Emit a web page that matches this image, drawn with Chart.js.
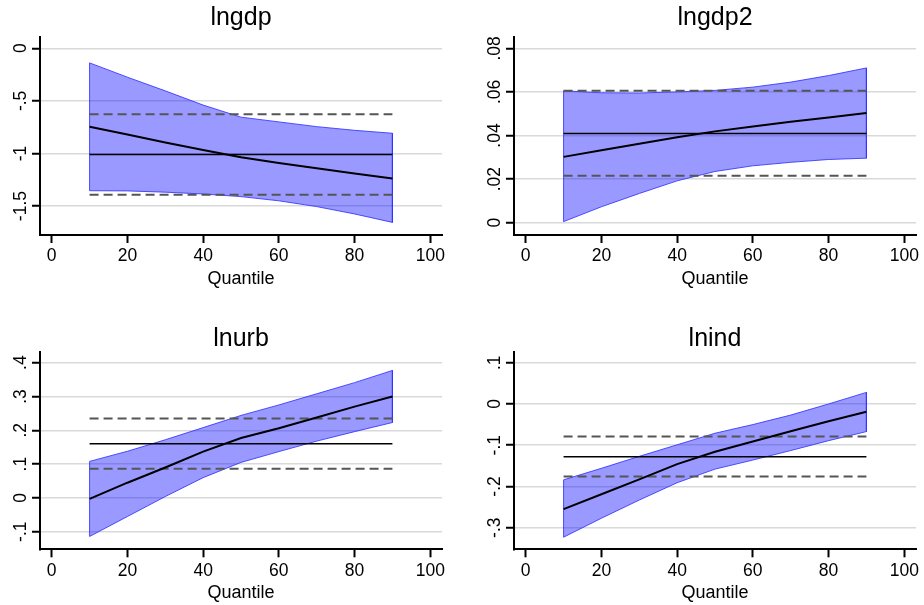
<!DOCTYPE html>
<html><head><meta charset="utf-8">
<script src="https://cdn.jsdelivr.net/npm/chart.js@4/dist/chart.umd.min.js"></script>
<style>
html,body{margin:0;padding:0;background:#fff;}
#wrap{position:relative;width:924px;height:605px;overflow:hidden;background:#fff;}
canvas{position:absolute;}
</style></head><body>
<div id="wrap">
<canvas id="c1" width="462" height="300" style="left:0;top:0"></canvas>
<canvas id="c2" width="462" height="300" style="left:462px;top:0"></canvas>
<canvas id="c3" width="462" height="305" style="left:0;top:300px"></canvas>
<canvas id="c4" width="462" height="305" style="left:462px;top:300px"></canvas>
</div>
<script>
// ---- data ----
const quantiles = [10, 20, 30, 40, 50, 60, 70, 80, 90];
const xTicks = [0, 20, 40, 60, 80, 100];
const xAxisTitle = 'Quantile';

const lngdpUpper = [-0.139, -0.275, -0.405, -0.54, -0.655, -0.70, -0.745, -0.78, -0.808];
const lngdpCoef  = [-0.747, -0.82, -0.895, -0.968, -1.035, -1.09, -1.14, -1.19, -1.237];
const lngdpLower = [-1.354, -1.356, -1.368, -1.385, -1.41, -1.45, -1.505, -1.575, -1.655];
const lngdpOls   = [-1.01, -0.627, -1.392]; // estimate, upper, lower
const lngdpTicks = [0, -0.5, -1, -1.5];
const lngdpTickLabels = ['0', '-.5', '-1', '-1.5'];

const lngdp2Upper = [0.0605, 0.0596, 0.0595, 0.06, 0.0607, 0.0622, 0.0645, 0.0675, 0.071];
const lngdp2Coef  = [0.0302, 0.0332, 0.0362, 0.0392, 0.0419, 0.0441, 0.0463, 0.0483, 0.0503];
const lngdp2Lower = [0.0005, 0.0073, 0.0134, 0.0192, 0.0235, 0.0261, 0.0277, 0.029, 0.0296];
const lngdp2Ols   = [0.0409, 0.0605, 0.0215];
const lngdp2Ticks = [0, 0.02, 0.04, 0.06, 0.08];
const lngdp2TickLabels = ['0', '.02', '.04', '.06', '.08'];

const lnurbUpper = [0.108, 0.138, 0.172, 0.208, 0.244, 0.275, 0.308, 0.341, 0.377];
const lnurbCoef  = [-0.003, 0.045, 0.09, 0.137, 0.177, 0.206, 0.238, 0.27, 0.3];
const lnurbLower = [-0.114, -0.055, 0.004, 0.06, 0.105, 0.137, 0.168, 0.196, 0.223];
const lnurbOls   = [0.16, 0.235, 0.086];
const lnurbTicks = [-0.1, 0, 0.1, 0.2, 0.3, 0.4];
const lnurbTickLabels = ['-.1', '0', '.1', '.2', '.3', '.4'];

const lnindUpper = [-0.184, -0.156, -0.127, -0.099, -0.071, -0.05, -0.027, 0.0, 0.028];
const lnindCoef  = [-0.255, -0.219, -0.183, -0.146, -0.116, -0.091, -0.066, -0.042, -0.019];
const lnindLower = [-0.323, -0.277, -0.233, -0.191, -0.158, -0.136, -0.113, -0.089, -0.067];
const lnindOls   = [-0.128, -0.079, -0.176];
const lnindTicks = [-0.3, -0.2, -0.1, 0, 0.1];
const lnindTickLabels = ['-.3', '-.2', '-.1', '0', '.1'];

// ---- rendering ----
const FAMILY = '"Liberation Sans", Arial, Helvetica, sans-serif';

// rotated y tick labels (Stata style) and title centred over the plot area
const textPlugin = {
  id: 'panelText',
  afterDraw(chart, args, opts) {
    const s = chart.scales.y, ctx = chart.ctx, area = chart.chartArea;
    ctx.save();
    ctx.fillStyle = '#000';
    ctx.font = '17.5px ' + FAMILY;
    ctx.textAlign = 'center';
    ctx.textBaseline = 'alphabetic';
    opts.values.forEach((v, i) => {
      const y = s.getPixelForValue(v);
      ctx.save();
      ctx.translate(area.left - 14.5, y);
      ctx.rotate(-Math.PI / 2);
      ctx.fillText(opts.labels[i], 0, 0);
      ctx.restore();
    });
    ctx.font = '25px ' + FAMILY;
    ctx.textBaseline = 'middle';
    ctx.fillText(opts.title, (area.left + area.right) / 2, opts.titleY);
    ctx.restore();
  }
};

function pts(xs, ys) { return xs.map((x, i) => ({x: x, y: ys[i]})); }

function makeChart(id, p) {
  const band = pts(quantiles, p.upper)
    .concat(pts(quantiles.slice().reverse(), p.lower.slice().reverse()));
  band.push({x: quantiles[0], y: p.upper[0]});
  const q0 = quantiles[0], q1 = quantiles[quantiles.length - 1];
  new Chart(document.getElementById(id), {
    type: 'line',
    data: {
      datasets: [
        {data: pts(quantiles, p.coef), borderColor: '#000', borderWidth: 2, pointRadius: 0, fill: false, order: 1},
        {data: [{x: q0, y: p.ols[0]}, {x: q1, y: p.ols[0]}], borderColor: '#000', borderWidth: 1.4, pointRadius: 0, fill: false, order: 2},
        {data: [{x: q0, y: p.ols[1]}, {x: q1, y: p.ols[1]}], borderColor: '#555', borderWidth: 2, borderDash: [9, 5], pointRadius: 0, fill: false, order: 3},
        {data: [{x: q0, y: p.ols[2]}, {x: q1, y: p.ols[2]}], borderColor: '#555', borderWidth: 2, borderDash: [9, 5], pointRadius: 0, fill: false, order: 3},
        {data: band, borderColor: 'rgba(50,50,255,0.85)', borderWidth: 1, backgroundColor: 'rgba(0,0,255,0.4)', pointRadius: 0, fill: 'shape', tension: 0, order: 10}
      ]
    },
    options: {
      responsive: false, animation: false, devicePixelRatio: 1,
      events: [],
      layout: {padding: {left: 0, right: p.padRight, top: p.padTop, bottom: 0}},
      plugins: {
        legend: {display: false},
        tooltip: {enabled: false},
        title: {display: false},
        panelText: {values: p.ticks, labels: p.tickLabels, title: p.title, titleY: p.titleY}
      },
      scales: {
        x: {
          type: 'linear', min: -3.1, max: 103.1,
          afterBuildTicks: s => { s.ticks = xTicks.map(v => ({value: v})); },
          afterFit: s => { s.height = p.xH; },
          grid: {drawOnChartArea: false, drawTicks: true, tickLength: 8, tickColor: '#000', tickWidth: 2},
          border: {display: true, color: '#000', width: 2},
          ticks: {color: '#000', font: {family: FAMILY, size: 17.5}, padding: 3, maxRotation: 0, autoSkip: false},
          title: {display: true, text: xAxisTitle, color: '#000',
            font: {family: FAMILY, size: 18, lineHeight: 1.2}, padding: {top: 0, bottom: p.qBot}}
        },
        y: {
          type: 'linear', min: p.min, max: p.max,
          afterBuildTicks: s => { s.ticks = p.ticks.map(v => ({value: v})); },
          afterFit: s => { s.width = p.yW; },
          grid: {color: '#d9d9d9', lineWidth: 1.5, drawTicks: true, tickLength: 8, tickColor: '#000', tickWidth: 2},
          border: {display: true, color: '#000', width: 2},
          ticks: {display: false}
        }
      }
    },
    plugins: [textPlugin]
  });
}

makeChart('c1', {title: 'lngdp', upper: lngdpUpper, coef: lngdpCoef, lower: lngdpLower, ols: lngdpOls,
  ticks: lngdpTicks, tickLabels: lngdpTickLabels, min: -1.775, max: 0.107,
  yW: 40, padRight: 20, padTop: 37, titleY: 18.4, xH: 65, qBot: 10.4});
makeChart('c2', {title: 'lngdp2', upper: lngdp2Upper, coef: lngdp2Coef, lower: lngdp2Lower, ols: lngdp2Ols,
  ticks: lngdp2Ticks, tickLabels: lngdp2TickLabels, min: -0.00565, max: 0.0852,
  yW: 52, padRight: 8, padTop: 37, titleY: 18.4, xH: 65, qBot: 10.4});
makeChart('c3', {title: 'lnurb', upper: lnurbUpper, coef: lnurbCoef, lower: lnurbLower, ols: lnurbOls,
  ticks: lnurbTicks, tickLabels: lnurbTickLabels, min: -0.152, max: 0.4325,
  yW: 40, padRight: 20, padTop: 51.7, titleY: 39.4, xH: 55.7, qBot: 1.4});
makeChart('c4', {title: 'lnind', upper: lnindUpper, coef: lnindCoef, lower: lnindLower, ols: lnindOls,
  ticks: lnindTicks, tickLabels: lnindTickLabels, min: -0.3524, max: 0.1267,
  yW: 52, padRight: 8, padTop: 51.7, titleY: 39.4, xH: 55.7, qBot: 1.4});
</script>
</body></html>
